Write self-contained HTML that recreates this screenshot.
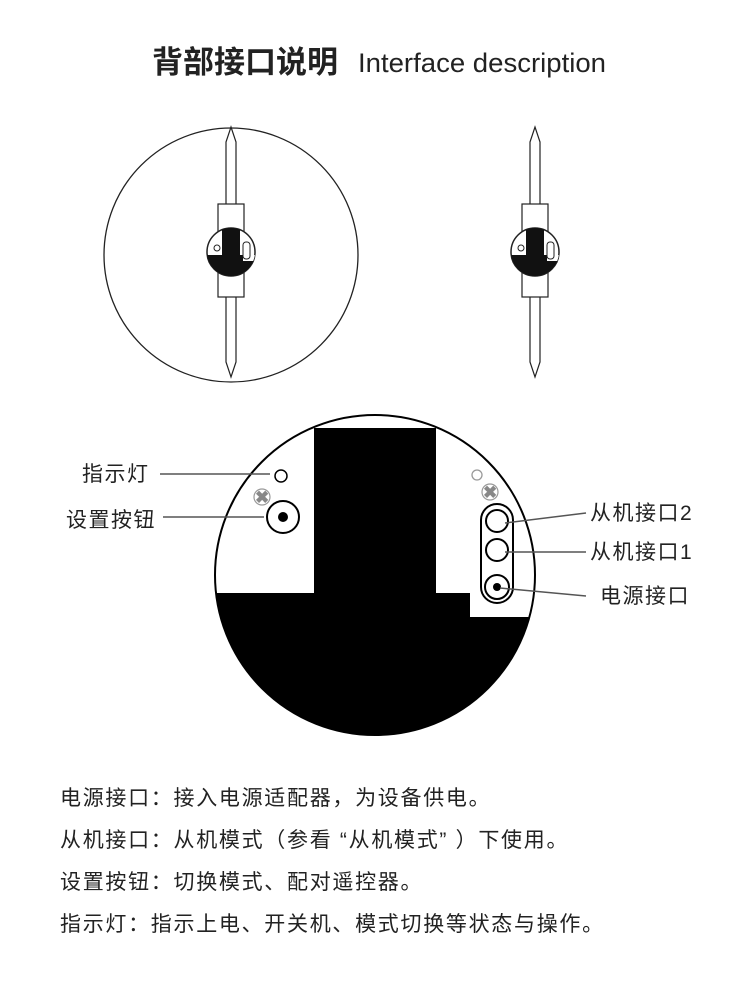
<!DOCTYPE html>
<html><head><meta charset="utf-8"><style>
body{margin:0;background:#fff;width:750px;height:989px;overflow:hidden}
svg{display:block}
text{font-family:"Liberation Sans","Noto Sans CJK SC",sans-serif;fill:#222}
</style></head><body>
<svg width="750" height="989" viewBox="0 0 750 989">
<text x="152" y="73" font-size="31" font-weight="bold" fill="#222">背部接口说明</text>
<text x="358" y="72" font-size="27" fill="#222" textLength="248" lengthAdjust="spacingAndGlyphs">Interface description</text>

<defs>
<clipPath id="sc"><circle cx="0" cy="0" r="24"/></clipPath>
<g id="fan">
  <polygon points="0,-125 5,-110 5,110 0,125 -5,110 -5,-110" fill="#fff" stroke="#222" stroke-width="1.2"/>
  <rect x="-13" y="-48" width="26" height="93" fill="#fff" stroke="#222" stroke-width="1.2"/>
  <circle cx="0" cy="0" r="24" fill="#fff" stroke="#222" stroke-width="1.5"/>
  <g clip-path="url(#sc)">
    <rect x="-9" y="-24" width="18" height="28" fill="#111"/>
    <rect x="-30" y="3" width="60" height="30" fill="#111"/>
    <rect x="12" y="3" width="12" height="6" fill="#fff"/>
  </g>
  <circle cx="-14" cy="-4" r="3" fill="none" stroke="#222"/>
  <rect x="12" y="-10" width="7" height="17" rx="3" fill="none" stroke="#222"/>
</g>
<clipPath id="bc"><circle cx="375" cy="575" r="160"/></clipPath>
</defs>

<circle cx="231" cy="255" r="127" fill="none" stroke="#222" stroke-width="1.3"/>
<use href="#fan" x="231" y="252"/>
<use href="#fan" x="535" y="252"/>

<circle cx="375" cy="575" r="160" fill="#fff"/>
<g clip-path="url(#bc)">
  <rect x="314" y="428" width="122" height="170" fill="#000"/>
  <rect x="200" y="593" width="400" height="200" fill="#000"/>
  <rect x="470" y="593" width="80" height="24" fill="#fff"/>
</g>
<circle cx="375" cy="575" r="160" fill="none" stroke="#000" stroke-width="2"/>

<circle cx="281" cy="476" r="6" fill="#fff" stroke="#000" stroke-width="1.5"/>
<circle cx="262" cy="497" r="8" fill="#fff" stroke="#999" stroke-width="1.2"/>
<text x="255" y="503" font-size="17" font-weight="bold" style="fill:#888">✖</text>
<circle cx="283" cy="517" r="16" fill="#fff" stroke="#000" stroke-width="2"/>
<circle cx="283" cy="517" r="5" fill="#000"/>

<circle cx="477" cy="475" r="5" fill="#fff" stroke="#999" stroke-width="1.3"/>
<circle cx="490" cy="492" r="8" fill="#fff" stroke="#999" stroke-width="1.2"/>
<text x="483" y="498" font-size="17" font-weight="bold" style="fill:#888">✖</text>
<path d="M481,520 a16,16 0 0 1 32,0 V587 a16,16 0 0 1 -32,0 Z" fill="#fff" stroke="#000" stroke-width="2"/>
<circle cx="497" cy="521" r="11" fill="#fff" stroke="#000" stroke-width="2"/>
<circle cx="497" cy="550" r="11" fill="#fff" stroke="#000" stroke-width="2"/>
<circle cx="497" cy="587" r="12" fill="#fff" stroke="#000" stroke-width="2"/>
<circle cx="497" cy="587" r="4" fill="#000"/>

<g stroke="#555" stroke-width="1.5">
<line x1="160" y1="474" x2="270" y2="474"/>
<line x1="163" y1="517" x2="264" y2="517"/>
<line x1="505" y1="523" x2="586" y2="513"/>
<line x1="505" y1="552" x2="586" y2="552"/>
<line x1="500" y1="588" x2="586" y2="596"/>
</g>
<g font-size="21" letter-spacing="1.5">
<text x="82" y="481">指示灯</text>
<text x="66" y="527">设置按钮</text>
<text x="590" y="520">从机接口2</text>
<text x="590" y="559">从机接口1</text>
<text x="600" y="603">电源接口</text>
</g>
<g font-size="21" letter-spacing="1.7">
<text x="60" y="805">电源接口：接入电源适配器，为设备供电。</text>
<text x="60" y="847">从机接口：从机模式（参看 “从机模式” ）下使用。</text>
<text x="60" y="889">设置按钮：切换模式、配对遥控器。</text>
<text x="60" y="931">指示灯：指示上电、开关机、模式切换等状态与操作。</text>
</g>
</svg>
</body></html>
